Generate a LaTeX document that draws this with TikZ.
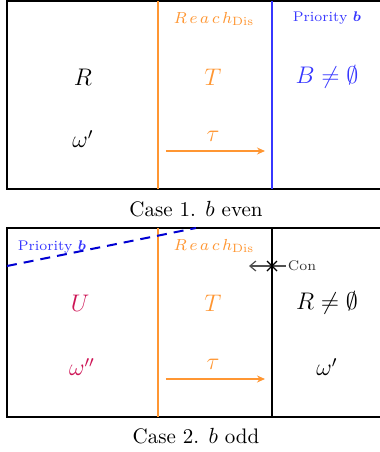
\documentclass[tikz,border=0pt]{standalone}
\usepackage{amsmath}
\usetikzlibrary{arrows.meta}
\definecolor{myorange}{RGB}{255,150,50}
\definecolor{myblue}{RGB}{55,55,255}
\definecolor{mydash}{RGB}{0,0,210}
\definecolor{mycrimson}{RGB}{205,20,85}
\definecolor{mygray}{RGB}{80,80,80}
\begin{document}
\begin{tikzpicture}[x=0.5pt,y=-0.5pt,
  boxline/.style={draw=black,line width=1pt},
  orangeline/.style={draw=myorange,line width=0.9pt},
  blueline/.style={draw=myblue,line width=0.9pt},
  bigmath/.style={font=\fontsize{11.5}{13}\selectfont,inner sep=0pt},
  smalllab/.style={font=\fontsize{7}{8}\selectfont,inner sep=0pt},
  reachlab/.style={font=\fontsize{8.5}{10}\selectfont,inner sep=0pt,text=myorange},
  caption/.style={font=\fontsize{10.5}{12}\selectfont,inner sep=0pt},
  tauarrow/.style={draw=myorange,line width=0.6pt,-{Stealth[length=4pt,width=3.5pt]}}]
\useasboundingbox (0,0) rectangle (380,452);
\clip (0,0) rectangle (380,452);
% ---------- Case 1 ----------
\draw[boxline] (7,1) rectangle (395,189);
\draw[orangeline] (158,1) -- (158,189);
\draw[blueline] (272,1) -- (272,189);
\node[reachlab] (reach1) at (214,19) {$R\,e\,a\,c\,h_{\mathrm{Dis}}$};
\node[smalllab,text=myblue] (prio1) at (327,18) {Priority $\boldsymbol{b}$};
\node[bigmath] (R1) at (83,77) {$R$};
\node[bigmath,text=myorange] (T1) at (213,77) {$T$};
\node[bigmath,text=myblue] (B1) at (327,77) {$B\neq\emptyset$};
\node[bigmath] (w1) at (83,139) {$\omega'$};
\node[bigmath,text=myorange] (tau1) at (213,136) {$\tau$};
\coordinate (a1s) at (166,151);
\coordinate (a1e) at (265,151);
\draw[tauarrow] (a1s) -- (a1e);
\node[caption] (cap1) at (196,209) {Case 1. $b$ even};
% ---------- Case 2 ----------
\draw[boxline] (7,228) rectangle (395,417);
\draw[orangeline] (158,228) -- (158,417);
\draw[boxline] (272,228) -- (272,417);
\coordinate (d1) at (7,266);
\coordinate (d2) at (196,228);
\draw[draw=mydash,line width=1pt,dash pattern=on 5pt off 3.5pt] (d1) -- (d2);
\node[smalllab,text=myblue] (prio2) at (52,247) {Priority $\boldsymbol{b}$};
\node[reachlab] (reach2) at (214,246) {$R\,e\,a\,c\,h_{\mathrm{Dis}}$};
\coordinate (c1) at (286,266);
\coordinate (c2) at (249,266);
\draw[draw=mygray,line width=0.6pt,-{Straight Barb[length=3pt,width=5pt]}] (c1) -- (c2);
\draw[line width=0.6pt] (267,261) -- (277,271) (267,271) -- (277,261);
\node[font=\fontsize{7}{8}\selectfont,inner sep=0pt,text=black!80] (con) at (302,266) {Con};
\node[bigmath,text=mycrimson] (U2) at (80,303) {$U$};
\node[bigmath,text=myorange] (T2) at (213,303) {$T$};
\node[bigmath] (R2) at (327,303) {$R\neq\emptyset$};
\node[bigmath,text=mycrimson] (w2) at (82,367) {$\omega''$};
\node[bigmath,text=myorange] (tau2) at (213,364) {$\tau$};
\node[bigmath] (w3) at (327,367) {$\omega'$};
\coordinate (a2s) at (166,379);
\coordinate (a2e) at (265,379);
\draw[tauarrow] (a2s) -- (a2e);
\node[caption] (cap2) at (196,436) {Case 2. $b$ odd};
\end{tikzpicture}
\end{document}
